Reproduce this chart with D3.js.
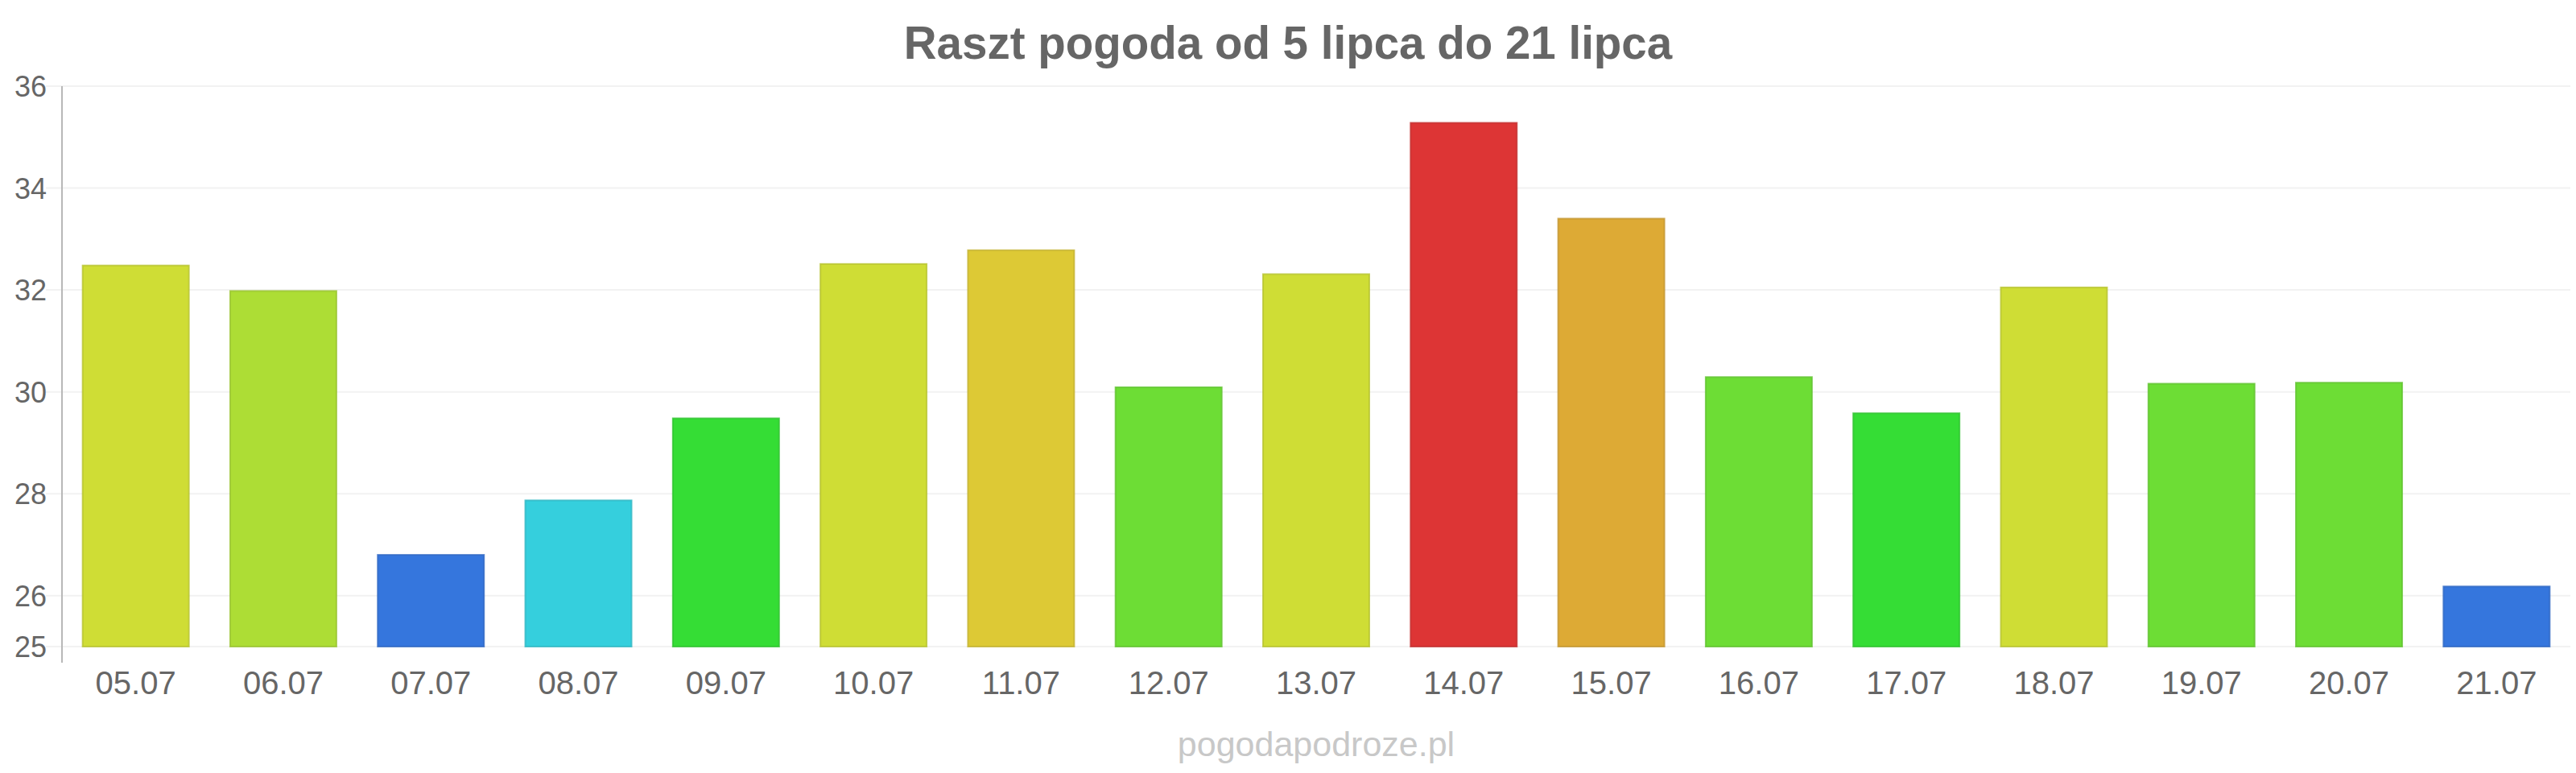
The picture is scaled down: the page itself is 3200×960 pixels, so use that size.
<!DOCTYPE html>
<html>
<head>
<meta charset="utf-8">
<script src="https://cdn.jsdelivr.net/npm/d3@7"></script>
<style>
  html, body { margin: 0; padding: 0; background: #ffffff; }
  svg { display: block; }
</style>
</head>
<body>
<svg id="chart" width="3200" height="960"></svg>
<script>
// ---- data ----
const categories = ["05.07","06.07","07.07","08.07","09.07","10.07","11.07","12.07","13.07","14.07","15.07","16.07","17.07","18.07","19.07","20.07","21.07"];
const temperatures = [32.48, 31.98, 26.8, 27.87, 29.48, 32.51, 32.78, 30.09, 32.31, 35.28, 33.4, 30.29, 29.58, 32.05, 30.16, 30.18, 26.18];
const yTicks = [25, 26, 28, 30, 32, 34, 36];
const titleText = "Raszt pogoda od 5 lipca do 21 lipca";
const watermarkText = "pogodapodroze.pl";
const colorThresholds = [27, 29, 30, 31, 32, 32.7, 33, 34];
const colorPalette = ["#3576dd", "#35cfdd", "#35dd35", "#6ddd35", "#addd35", "#cfdd35", "#ddc935", "#ddaa35", "#dd3535"];

// ---- layout ----
const W = 3200, H = 960;
const plot = { left: 77, right: 3193, top: 107, bottom: 803 };

const svg = d3.select("#chart");

const x = d3.scaleBand()
  .domain(categories)
  .range([plot.left, plot.right])
  .paddingInner(0.28)
  .paddingOuter(0.14);

const y = d3.scaleLinear()
  .domain([25, 36])
  .range([plot.bottom, plot.top]);

const color = d3.scaleThreshold().domain(colorThresholds).range(colorPalette);

// gridlines
svg.append("g")
  .selectAll("line")
  .data(yTicks)
  .join("line")
  .attr("x1", plot.left - 20)
  .attr("x2", plot.right)
  .attr("y1", d => y(d))
  .attr("y2", d => y(d))
  .attr("stroke", "#f2f2f2")
  .attr("stroke-width", 2);

// y axis labels
const yAxis = d3.axisLeft(y).tickValues(yTicks).tickSize(0).tickPadding(0).tickFormat(d3.format("d"));
const gy = svg.append("g")
  .attr("transform", `translate(${plot.left - 19},0)`)
  .call(yAxis);
gy.select(".domain").remove();
gy.selectAll("text")
  .attr("x", 0)
  .attr("dy", "0.35em")
  .attr("fill", "#666666")
  .attr("font-family", "'Liberation Sans', Arial, sans-serif")
  .attr("font-size", 36);

// axis line
svg.append("line")
  .attr("x1", plot.left).attr("x2", plot.left)
  .attr("y1", plot.top).attr("y2", plot.bottom + 20)
  .attr("stroke", "#b8b8b8")
  .attr("stroke-width", 2);

// bars
svg.append("g")
  .selectAll("rect")
  .data(categories.map((c, i) => ({ c, v: temperatures[i] })))
  .join("rect")
  .attr("x", d => x(d.c))
  .attr("width", x.bandwidth())
  .attr("y", d => y(d.v))
  .attr("height", d => y(25) - y(d.v))
  .attr("fill", d => color(d.v))
  .attr("stroke", d => d3.color(color(d.v)).darker(0.35))
  .attr("stroke-width", 2)
  .attr("stroke-opacity", 0.8);

// x axis labels
const xAxis = d3.axisBottom(x).tickSize(0).tickPadding(0);
const gx = svg.append("g")
  .attr("transform", `translate(0,${plot.bottom})`)
  .call(xAxis);
gx.select(".domain").remove();
gx.selectAll("text")
  .attr("y", 59)
  .attr("dy", 0)
  .attr("fill", "#666666")
  .attr("font-family", "'Liberation Sans', Arial, sans-serif")
  .attr("font-size", 40);

// title
svg.append("text")
  .attr("x", W / 2)
  .attr("y", 73)
  .attr("text-anchor", "middle")
  .attr("fill", "#666666")
  .attr("font-family", "'Liberation Sans', Arial, sans-serif")
  .attr("font-weight", "bold")
  .attr("font-size", 56.5)
  .text(titleText);

// watermark
svg.append("text")
  .attr("x", (plot.left + plot.right) / 2)
  .attr("y", 939)
  .attr("text-anchor", "middle")
  .attr("fill", "#c8c8c8")
  .attr("font-family", "'Liberation Sans', Arial, sans-serif")
  .attr("font-size", 43)
  .text(watermarkText);
</script>
</body>
</html>
